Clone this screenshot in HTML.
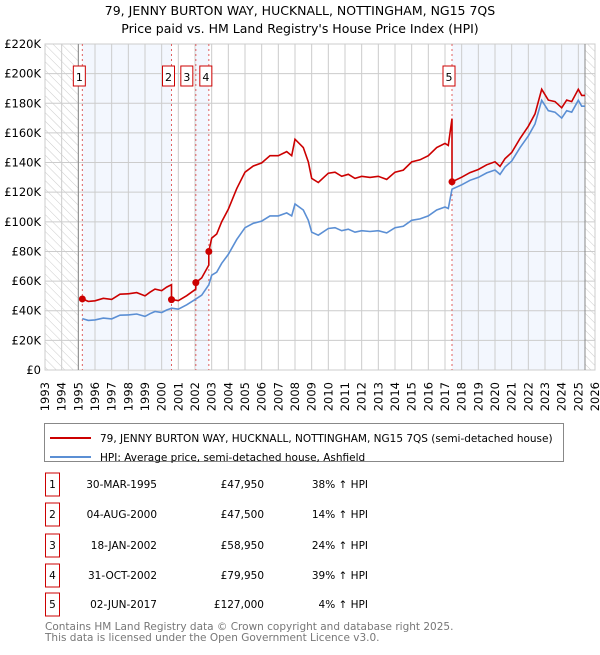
<!DOCTYPE html>
<html><head><meta charset="utf-8"><style>
body{margin:0;background:#fff;}
svg text{font-family:"DejaVu Sans","Liberation Sans",sans-serif;}
</style></head><body>
<svg id="chart" width="600" height="650" viewBox="0 0 600 650" xmlns="http://www.w3.org/2000/svg">
<defs><pattern id="hatch" width="6" height="6" patternUnits="userSpaceOnUse" patternTransform="rotate(-45)"><line x1="0" y1="0" x2="0" y2="6" stroke="#ccc" stroke-width="1"/></pattern></defs>
<text x="300" y="15" text-anchor="middle" font-size="12.5">79, JENNY BURTON WAY, HUCKNALL, NOTTINGHAM, NG15 7QS</text>
<text x="300" y="33" text-anchor="middle" font-size="12.5">Price paid vs. HM Land Registry's House Price Index (HPI)</text>
<g id="plot"></g>
<g>
<rect x="44.5" y="423.5" width="519" height="38" fill="#fff" stroke="#888"/>
<line x1="50" y1="438" x2="91" y2="438" stroke="#cc0000" stroke-width="2"/>
<text x="100" y="442" font-size="10.5">79, JENNY BURTON WAY, HUCKNALL, NOTTINGHAM, NG15 7QS (semi-detached house)</text>
<line x1="50" y1="457" x2="91" y2="457" stroke="#5b8fd4" stroke-width="2"/>
<text x="100" y="457" font-size="10.5" dy="4">HPI: Average price, semi-detached house, Ashfield</text>
</g>
<g id="table"></g>
<text x="45" y="630" font-size="10.5" fill="#777">Contains HM Land Registry data © Crown copyright and database right 2025.</text>
<text x="45" y="641" font-size="10.5" fill="#777">This data is licensed under the Open Government Licence v3.0.</text>
</svg>
<script>
const hpiYears=[1995.0,1995.24,1995.6,1996.0,1996.5,1997.0,1997.5,1998.0,1998.5,1999.0,1999.3,1999.6,2000.0,2000.3,2000.6,2001.0,2001.5,2002.0,2002.4,2002.83,2003.0,2003.3,2003.6,2004.0,2004.5,2005.0,2005.5,2006.0,2006.5,2007.0,2007.5,2007.8,2008.0,2008.5,2008.8,2009.0,2009.4,2010.0,2010.4,2010.8,2011.2,2011.6,2012.0,2012.5,2013.0,2013.5,2014.0,2014.5,2015.0,2015.5,2016.0,2016.5,2017.0,2017.2,2017.42,2018.0,2018.5,2019.0,2019.5,2020.0,2020.3,2020.6,2021.0,2021.5,2022.0,2022.4,2022.8,2023.2,2023.6,2024.0,2024.3,2024.6,2025.0,2025.2,2025.4];
const hpiValues=[35,34.7,33.5,33.8,35,34.5,37,37.2,37.8,36.2,38,39.5,38.8,40.5,41.7,41,44,47.5,50.5,57.5,64,66,72,78,88,96,99,100.5,104,104,106,104,112,108,101,93,91,95.5,96,94,95,93,94,93.5,94,92.5,96,97,101,102,104,108,110,109,122,125,128,130,133,135,132,137,141,150,158,166,182,175,174,170,175,174,182,178,178];
const saleYears=[1995.24,2000.59,2002.05,2002.83,2017.42];
const salePrices=[47950,47500,58950,79950,127000];
const saleDates=["30-MAR-1995","04-AUG-2000","18-JAN-2002","31-OCT-2002","02-JUN-2017"];
const salePriceLabels=["£47,950","£47,500","£58,950","£79,950","£127,000"];
const salePct=["38%","14%","24%","39%","4%"];
const yTicks=[0,20,40,60,80,100,120,140,160,180,200,220];
const xTicks=[1993,1994,1995,1996,1997,1998,1999,2000,2001,2002,2003,2004,2005,2006,2007,2008,2009,2010,2011,2012,2013,2014,2015,2016,2017,2018,2019,2020,2021,2022,2023,2024,2025,2026];

const X0=45,X1=595,Y0=370,Y1=44;
const x=t=>X0+(t-1993)/(2026-1993)*(X1-X0);
const y=v=>Y0-v/220*(Y0-Y1);
const NS="http://www.w3.org/2000/svg";
const plot=document.getElementById('plot');
function mk(tag,attrs,parent){const e=document.createElementNS(NS,tag);for(const k in attrs)e.setAttribute(k,attrs[k]);(parent||plot).appendChild(e);return e;}
function hpiAt(t){for(let i=0;i<hpiYears.length-1;i++){if(t>=hpiYears[i]&&t<=hpiYears[i+1]){const f=(t-hpiYears[i])/(hpiYears[i+1]-hpiYears[i]);return hpiValues[i]+f*(hpiValues[i+1]-hpiValues[i]);}}return hpiValues[hpiValues.length-1];}
const lastT=hpiYears[hpiYears.length-1];
let r;
r=mk('rect',{x:X0,y:Y1,width:x(1995.0)-X0,height:Y0-Y1,fill:'url(#hatch)'});

r=mk('rect',{x:x(lastT),y:Y1,width:X1-x(lastT),height:Y0-Y1,fill:'url(#hatch)'});

[[0,1],[2,3]].forEach(p=>{const s=mk('rect',{x:x(saleYears[p[0]]),y:Y1,width:x(saleYears[p[1]])-x(saleYears[p[0]]),height:Y0-Y1,fill:'#eef3fd',opacity:0.7});
});
r=mk('rect',{x:x(saleYears[4]),y:Y1,width:x(lastT)-x(saleYears[4]),height:Y0-Y1,fill:'#eef3fd',opacity:0.7});

xTicks.forEach(t=>{const l=mk('line',{x1:x(t),x2:x(t),y1:Y1,y2:Y0,stroke:'#ccc','stroke-width':1});

const tx=mk('text',{x:0,y:0,'font-size':11.5,'text-anchor':'end',transform:`translate(${x(t)+4},${Y0+12}) rotate(-90)`});tx.textContent=t;
});
yTicks.forEach(v=>{const l=mk('line',{x1:X0,x2:X1,y1:y(v),y2:y(v),stroke:'#ccc','stroke-width':1});

const tx=mk('text',{x:X0-4,y:y(v)+4,'font-size':11.5,'text-anchor':'end'});tx.textContent=v===0?'£0':'£'+v+'K';
});
r=mk('rect',{x:X0,y:Y1,width:X1-X0,height:Y0-Y1,fill:'none',stroke:'#ccc'});

mk('line',{x1:x(1995.0),x2:x(1995.0),y1:Y1,y2:Y0,stroke:'#888'});
mk('line',{x1:x(lastT),x2:x(lastT),y1:Y1,y2:Y0,stroke:'#888'});
saleYears.forEach((t,i)=>{const l=mk('line',{x1:x(t),x2:x(t),y1:Y1,y2:Y0,stroke:'#e06060','stroke-dasharray':'2,3','stroke-width':1});
});
let d='';hpiYears.forEach((t,i)=>{if(t<1995.2)return;d+=(d?'L':'M')+x(t).toFixed(1)+','+y(hpiValues[i]).toFixed(1);});
const bl=mk('path',{d:d,fill:'none',stroke:'#5b8fd4','stroke-width':1.6});

let rd='';
for(let s=0;s<saleYears.length;s++){const ratio=salePrices[s]/1000/hpiAt(saleYears[s]);const end=s<saleYears.length-1?saleYears[s+1]:lastT;
const pts=[saleYears[s]].concat(hpiYears.filter(t=>t>saleYears[s]&&t<end)).concat([end]);
pts.forEach((t,j)=>{rd+=(rd?'L':'M')+x(t).toFixed(1)+','+y(hpiAt(t)*ratio).toFixed(1);});}
const rl=mk('path',{d:rd,fill:'none',stroke:'#cc0000','stroke-width':1.6});

saleYears.forEach((t,i)=>{const c=mk('circle',{cx:x(t),cy:y(salePrices[i]/1000),r:3.5,fill:'#cc0000'});

const off=i===2?-9:-3;
const g=mk('g',{});
mk('rect',{x:x(t)-6+off,y:66,width:12,height:20,fill:'#fff',stroke:'#cc0000'},g);
const tx=mk('text',{x:x(t)+off,y:81,'font-size':11,'text-anchor':'middle'},g);tx.textContent=i+1;});
const tb=document.getElementById('table');
const rowY=[484,514,545,575,604];
saleDates.forEach((dt,i)=>{const yy=rowY[i];
mk('rect',{x:45.5,y:yy-11,width:14,height:23,fill:'#fff',stroke:'#cc0000'},tb);
let t=mk('text',{x:52.5,y:yy+4,'font-size':10.5,'text-anchor':'middle'},tb);t.textContent=i+1;
t=mk('text',{x:157,y:yy+4,'font-size':10.5,'text-anchor':'end'},tb);t.textContent=dt;
t=mk('text',{x:264,y:yy+4,'font-size':10.5,'text-anchor':'end'},tb);t.textContent=salePriceLabels[i];
t=mk('text',{x:368,y:yy+4,'font-size':10.5,'text-anchor':'end'},tb);t.textContent=salePct[i]+' ↑ HPI';});
</script>
</body></html>
